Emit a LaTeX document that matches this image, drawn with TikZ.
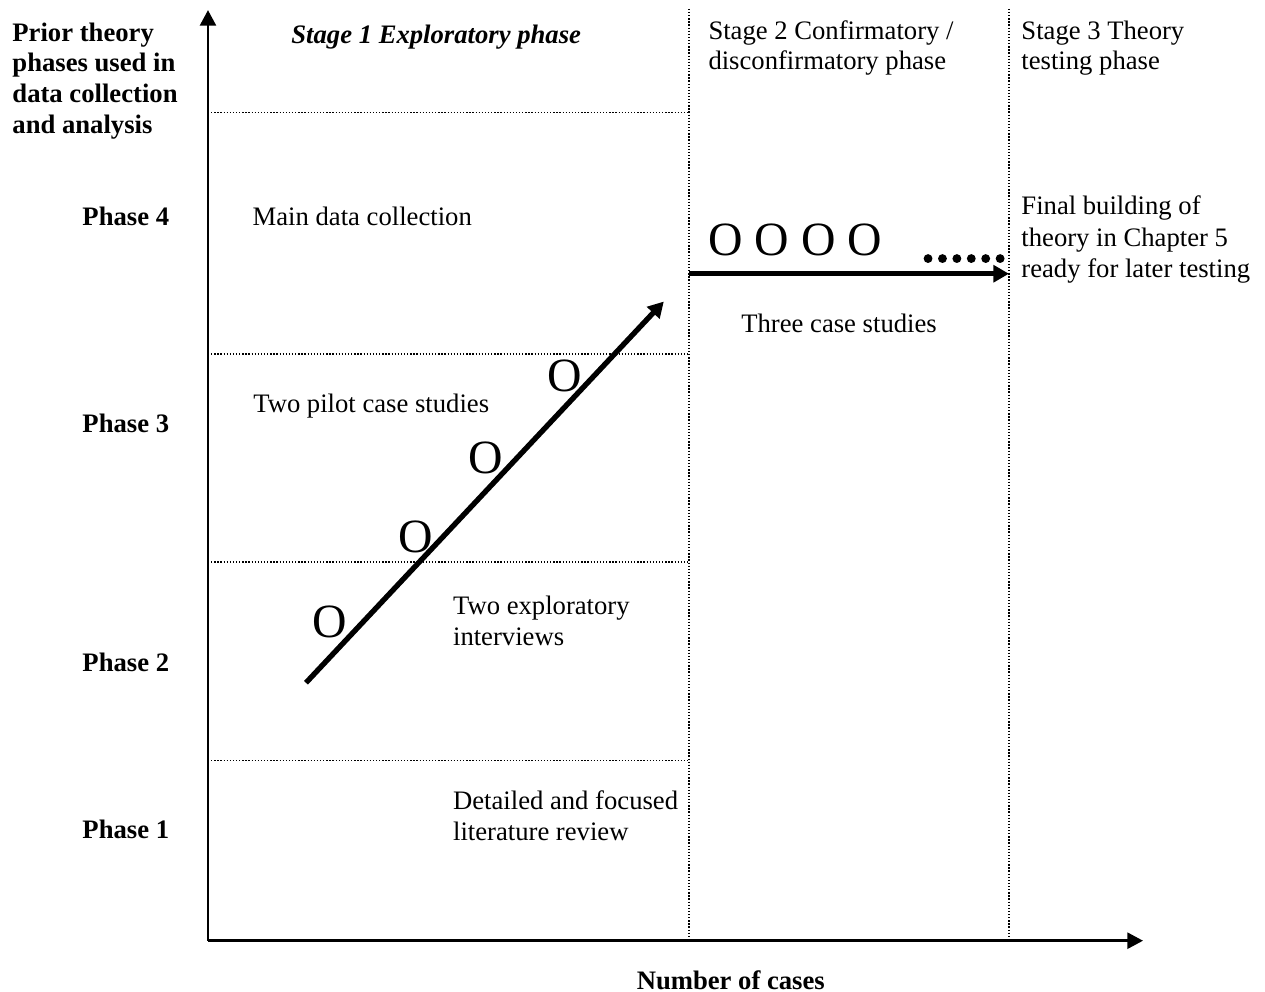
\documentclass[tikz,border=0pt]{standalone}
\usepackage{fontspec}
\setmainfont{Liberation Serif}
\usetikzlibrary{arrows.meta}

\begin{document}
\begin{tikzpicture}[
        txt/.style={anchor=west, inner sep=0pt, align=left, font=\fontsize{12}{13.8}\selectfont},
        boldtxt/.style={inner sep=0pt, align=left, font=\fontsize{12}{13.8}\selectfont\bfseries},
        bigo/.style={inner sep=0pt, font=\fontsize{21.5}{24}\selectfont},
        axis/.style={line width=1.1pt, -{Triangle[length=7pt,width=7.2pt]}},
        bigarrow/.style={line width=2.4pt, -{Triangle[length=7pt,width=7.5pt]}},
        divider/.style={line width=0.6pt, dash pattern=on 0.6pt off 0.8pt}
    ]
        \useasboundingbox (-3.29,-0.81) rectangle (16.72,14.88);

        % Axes
        \coordinate (origin) at (0,0);
        \coordinate (xend) at (14.79,0);
        \coordinate (yend) at (0,14.72);
        \draw[axis] (origin) -- (xend);
        \draw[axis] (origin) -- (yend);

        % Stage dividers
        \foreach \x/\name in {7.61/one, 12.67/two} {
            \coordinate (top\name) at (\x,14.74);
            \coordinate (bot\name) at (\x,0);
            \draw[divider] (top\name) -- (bot\name);
        }

        % Phase dividers
        \foreach \y in {13.10, 9.28, 5.99, 2.85}
            \draw[divider] (0,\y) -- (7.61,\y);

        % Axis labels
        \node[boldtxt, anchor=west] (ylabel) at (-3.10,13.60)
            {Prior theory\\phases used in\\data collection\\and analysis};
        \node[boldtxt] (xlabel) at (8.27,-0.62) {Number of cases};

        % Phases
        \foreach \n/\y in {4/11.45, 3/8.19, 2/4.40, 1/1.76}
            \node[boldtxt] (phase\n) at (-1.30,\y) {Phase \n};

        % Stages
        \node[inner sep=0pt, font=\fontsize{12}{13.8}\selectfont\bfseries\itshape] (stage1)
            at (3.61,14.30) {Stage 1 Exploratory phase};
        \node[txt] (stage2) at (7.91,14.12) {Stage 2 Confirmatory /\\disconfirmatory phase};
        \node[txt] (stage3) at (12.86,14.12) {Stage 3 Theory\\testing phase};

        % Stage 1 texts
        \node[txt] (maindata) at (0.70,11.45) {Main data collection};
        \node[txt] (pilot) at (0.71,8.45) {Two pilot case studies};
        \node[txt] (interviews) at (3.87,5.06) {Two exploratory\\interviews};
        \node[txt] (litreview) at (3.87,1.98) {Detailed and focused\\literature review};

        % Exploratory cases
        \coordinate (diagstart) at (1.55,4.08);
        \coordinate (diagend) at (7.21,10.11);
        \draw[bigarrow] (diagstart) -- (diagend);
        \node[bigo] (o1) at (1.93,5.05) {O};
        \node[bigo] (o2) at (3.29,6.39) {O};
        \node[bigo] (o3) at (4.40,7.64) {O};
        \node[bigo] (o4) at (5.65,8.94) {O};

        % Confirmatory cases
        \coordinate (casestart) at (7.61,10.55);
        \coordinate (caseend) at (12.67,10.55);
        \draw[bigarrow] (casestart) -- (caseend);
        \node[bigo, anchor=west] (ocases) at (7.91,11.09) {O O O O};
        \foreach \i in {0,...,5}
            \fill (11.39+\i*0.228,10.79) circle (0.07);
        \node[txt] (threecases) at (8.43,9.76) {Three case studies};

        % Stage 3 text
        \node[txt, font=\fontsize{12}{14.2}\selectfont] (finaltheory) at (12.86,11.09)
            {Final building of\\theory in Chapter 5\\ready for later testing};
    \end{tikzpicture}
\end{document}
